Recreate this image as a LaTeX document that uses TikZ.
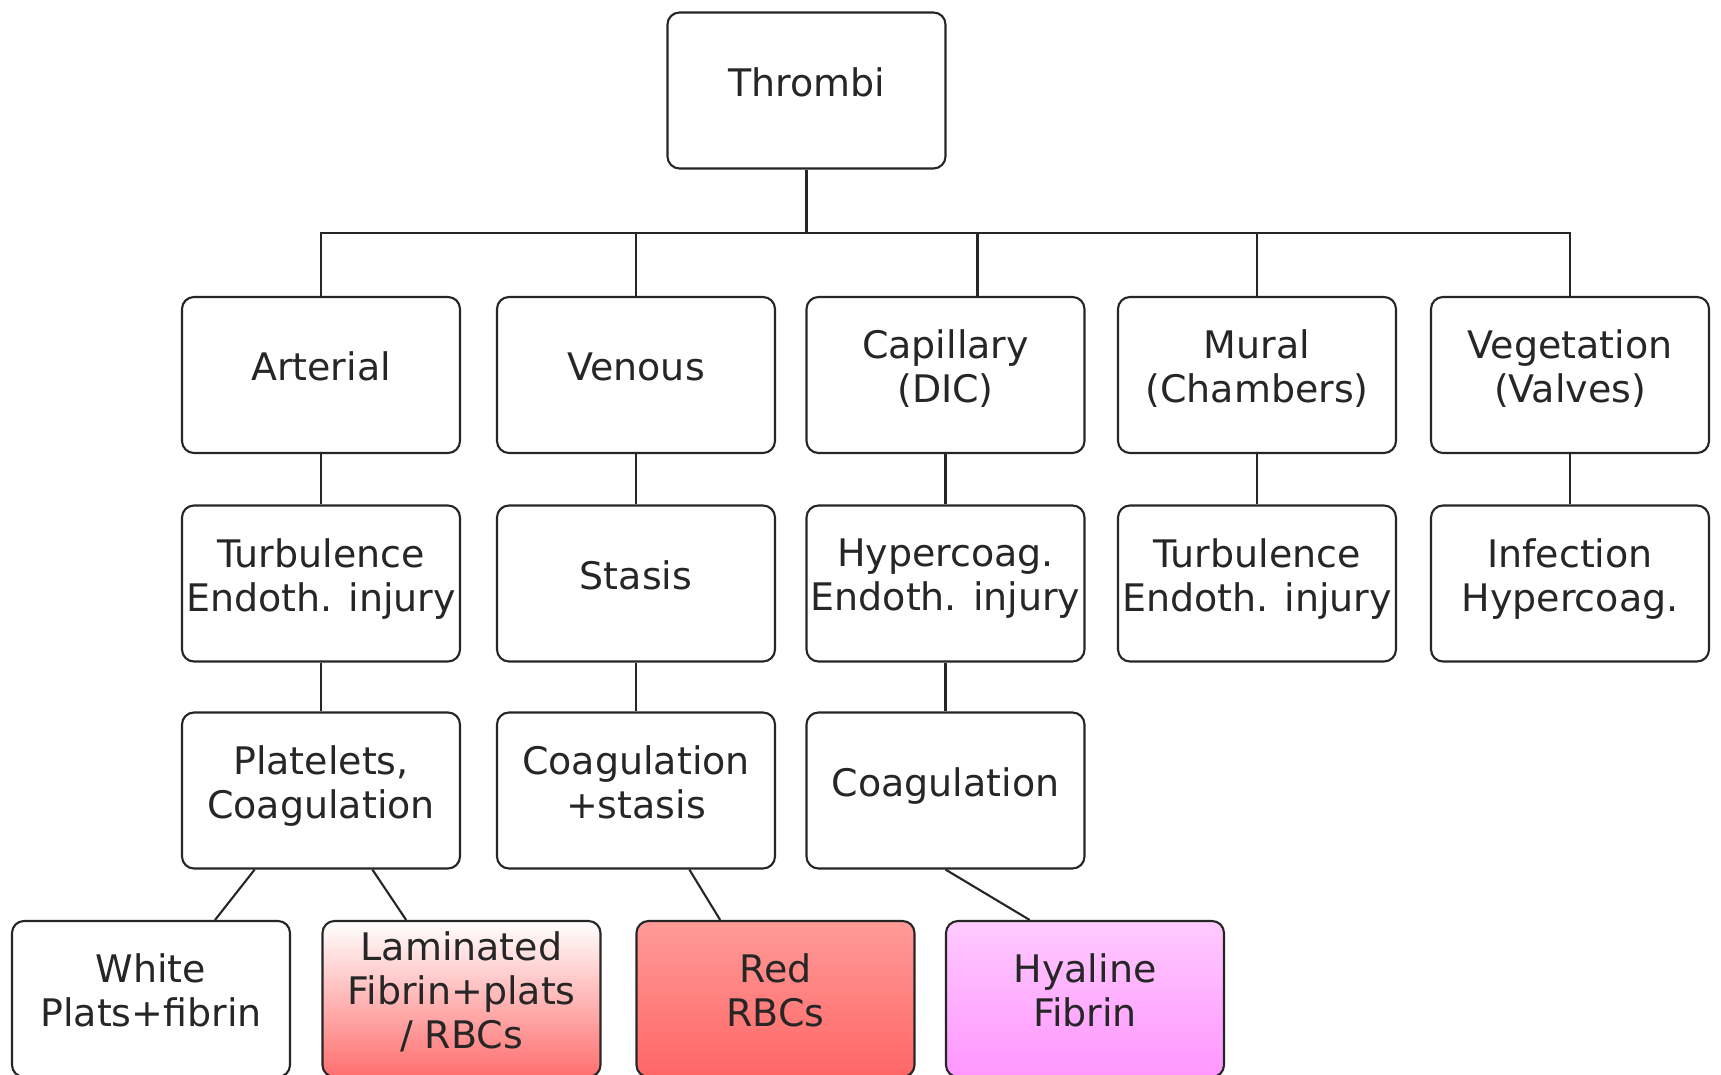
\documentclass[tikz,border=0pt]{standalone}
\usepackage{fontspec}
\setmainfont{DejaVu Sans}
\usepackage{xcolor}
\usepackage{tikz}
\usetikzlibrary{shapes,arrows,positioning}

\definecolor{lamred}{RGB}{255,110,110}
\definecolor{redtop}{RGB}{255,155,152}
\definecolor{redbot}{RGB}{255,102,102}
\definecolor{hyatop}{RGB}{255,202,255}
\definecolor{hyabot}{RGB}{255,150,255}

\begin{document}
\begin{tikzpicture}[
    box/.style={rectangle, rounded corners=1.2mm, draw=black!85, line width=0.6pt, fill=white, minimum width=2.78cm, minimum height=1.56cm, align=center, font=\fontsize{10.8}{12.5}\selectfont, text=black!85, inner sep=0pt, text depth=0.17cm},
    lamin/.style={box, top color=white, bottom color=lamred},
    redbox/.style={box, top color=redtop, bottom color=redbot},
    hyabox/.style={box, top color=hyatop, bottom color=hyabot},
    link/.style={draw=black!85, line width=0.6pt}
]
    \useasboundingbox (0,0) rectangle (17.21,10.74);

    % Korzen
    \node[box] (thrombi) at (8.065, 9.835) {Thrombi};

    % Rodzaje
    \node[box] (art) at (3.21, 6.99) {Arterial};
    \node[box] (ven) at (6.36, 6.99) {Venous};
    \node[box] (cap) at (9.455, 6.99) {Capillary\\(DIC)};
    \node[box] (mur) at (12.57, 6.99) {Mural\\(Chambers)};
    \node[box] (veg) at (15.70, 6.99) {Vegetation\\(Valves)};

    % Przyczyny
    \node[box] (artcause) at (3.21, 4.905) {Turbulence\\Endoth. injury};
    \node[box] (vencause) at (6.36, 4.905) {Stasis};
    \node[box] (capcause) at (9.455, 4.905) {Hypercoag.\\Endoth. injury};
    \node[box] (murcause) at (12.57, 4.905) {Turbulence\\Endoth. injury};
    \node[box] (vegcause) at (15.70, 4.905) {Infection\\Hypercoag.};

    % Mechanizm
    \node[box] (artmech) at (3.21, 2.835) {Platelets,\\Coagulation};
    \node[box] (venmech) at (6.36, 2.835) {Coagulation\\+stasis};
    \node[box] (capmech) at (9.455, 2.835) {Coagulation};

    % Typy skrzepow
    \node[box] (white) at (1.51, 0.75) {White\\Plats+fibrin};
    \node[lamin] (lamin) at (4.615, 0.75) {Laminated\\Fibrin+plats\\/ RBCs};
    \node[redbox] (red) at (7.755, 0.75) {Red\\RBCs};
    \node[hyabox] (hyal) at (10.85, 0.75) {Hyaline\\Fibrin};

    % Szyna
    \coordinate (bus) at (8.065, 8.41);
    \draw[link] (thrombi.south) -- (bus);
    \draw[link] (art.north) -- (art.north |- bus) -- (veg.north |- bus) -- (veg.north);
    \draw[link] (ven.north) -- (ven.north |- bus);
    \draw[link] (cap.68) -- (cap.68 |- bus);
    \draw[link] (mur.north) -- (mur.north |- bus);

    % Pionowe polaczenia
    \draw[link] (art) -- (artcause);
    \draw[link] (ven) -- (vencause);
    \draw[link] (cap) -- (capcause);
    \draw[link] (mur) -- (murcause);
    \draw[link] (veg) -- (vegcause);
    \draw[link] (artcause) -- (artmech);
    \draw[link] (vencause) -- (venmech);
    \draw[link] (capcause) -- (capmech);

    % Skosne polaczenia
    \draw[link] (artmech.230) -- (white.51);
    \draw[link] (artmech.303) -- (lamin.125);
    \draw[link] (venmech.304) -- (red.125);
    \draw[link] (capmech.south) -- (hyal.125);
\end{tikzpicture}
\end{document}
